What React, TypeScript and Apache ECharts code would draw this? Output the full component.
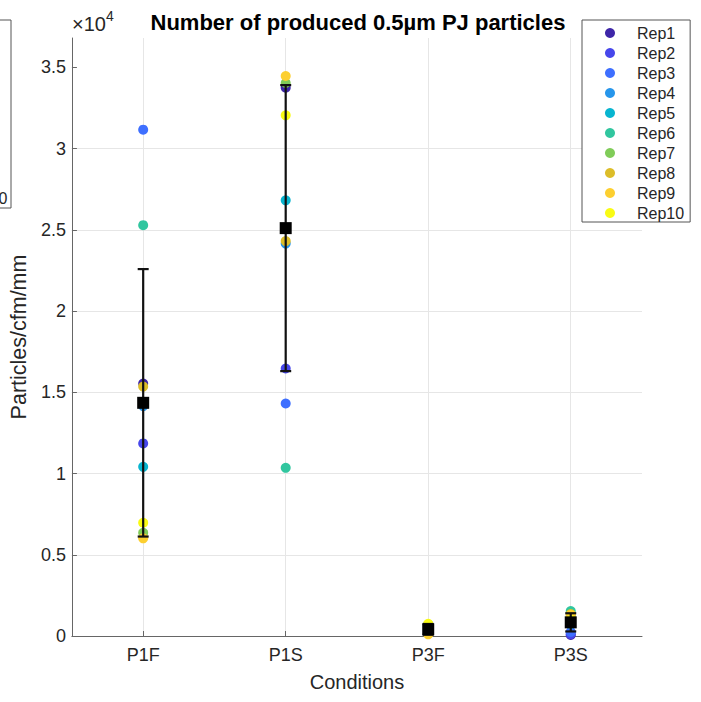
import React, { useEffect, useRef } from 'react';
import * as echarts from 'echarts';

const conditions = ['P1F', 'P1S', 'P3F', 'P3S'];
const repNames = ['Rep1', 'Rep2', 'Rep3', 'Rep4', 'Rep5', 'Rep6', 'Rep7', 'Rep8', 'Rep9', 'Rep10'];
const repColors = ['#3e26a8', '#4747eb', '#3e6fff', '#2796eb', '#08b5d0', '#31c69f', '#80cc59', '#dcbd29', '#fccf30', '#f9fb14'];

// values per condition (P1F, P1S, P3F, P3S)
const rep1 = [15540, 33740, 600, 60];
const rep2 = [11850, 16460, 200, 120];
const rep3 = [31160, 14310, 650, 250];
const rep4 = [14150, 24150, 300, 700];
const rep5 = [10410, 26810, 700, 900];
const rep6 = [25280, 10350, 250, 1540];
const rep7 = [6350, 34030, 550, 1200];
const rep8 = [15350, 24300, 150, 1350];
const rep9 = [6010, 34460, 100, 1300];
const rep10 = [6970, 32040, 750, 1000];
const repValues = [rep1, rep2, rep3, rep4, rep5, rep6, rep7, rep8, rep9, rep10];

const meanValues = [14350, 25100, 410, 840];
const sdValues = [8230, 8800, 330, 560];

const yTicks = [0, 5000, 10000, 15000, 20000, 25000, 30000, 35000];

const FONT = "'Liberation Sans', Arial, Helvetica, sans-serif";
const TXT = '#262626';

export default function App() {
  const ref = useRef<HTMLDivElement>(null);
  useEffect(() => {
    if (!ref.current) return;
    const chart = echarts.init(ref.current, null, { renderer: 'svg' });
    const scatterSeries = repNames.map((name, i) => ({
      type: 'scatter',
      name,
      data: repValues[i],
      symbol: 'circle',
      symbolSize: 10,
      itemStyle: { color: repColors[i], opacity: 1 },
      z: 2,
    }));
    const errData = conditions.map((_, i) => [i, meanValues[i] - sdValues[i], meanValues[i] + sdValues[i]]);
    const option: any = {
      animation: false,
      textStyle: { fontFamily: FONT },
      title: {
        text: 'Number of produced 0.5µm PJ particles',
        left: 353,
        top: 6,
        textAlign: 'center',
        textStyle: { fontFamily: FONT, fontSize: 22, fontWeight: 'bold', color: '#000' },
      },
      grid: { left: 68, right: 59, top: 38, bottom: 66, containLabel: false },
      legend: {
        data: repNames.map((n) => ({ name: n, icon: 'circle' })),
        orient: 'vertical',
        left: 582,
        top: 20,
        padding: [4, 6, 0, 23],
        itemWidth: 44,
        itemHeight: 10,
        itemGap: 2,
        backgroundColor: '#ffffff',
        borderColor: '#555555',
        borderWidth: 1,
        textStyle: { fontFamily: FONT, fontSize: 16, color: TXT, lineHeight: 18 },
        z: 10,
      },
      xAxis: {
        type: 'category',
        data: conditions,
        boundaryGap: true,
        name: 'Conditions',
        nameLocation: 'middle',
        nameGap: 36,
        nameTextStyle: { fontFamily: FONT, fontSize: 20, color: TXT },
        axisLine: { show: true, lineStyle: { color: '#666666', width: 1 } },
        axisTick: { show: true, inside: true, alignWithLabel: true, length: 5, lineStyle: { color: '#666666' } },
        axisLabel: { fontFamily: FONT, fontSize: 18, color: TXT, margin: 10 },
        splitLine: { show: true, alignWithLabel: true, lineStyle: { color: '#e6e6e6', width: 1 } },
      },
      yAxis: {
        type: 'value',
        min: 0,
        max: 36800,
        interval: 5000,
        name: 'Particles/cfm/mm',
        nameLocation: 'middle',
        nameGap: 31,
        nameTextStyle: { fontFamily: FONT, fontSize: 21.5, color: TXT },
        axisLine: { show: true, lineStyle: { color: '#666666', width: 1 } },
        axisTick: { show: true, inside: true, length: 5, customValues: yTicks, lineStyle: { color: '#666666' } },
        axisLabel: {
          fontFamily: FONT,
          fontSize: 18,
          color: TXT,
          margin: 6,
          showMaxLabel: false,
          formatter: (v: number) => String(v / 10000),
        },
        splitLine: { show: true, showMaxLine: false, lineStyle: { color: '#e6e6e6', width: 1 } },
      },
      graphic: [
        { type: 'text', left: 72, top: 14, style: { text: '×10', fontFamily: FONT, fontSize: 20, fill: TXT } },
        { type: 'text', left: 106, top: 9, style: { text: '4', fontFamily: FONT, fontSize: 14, fill: TXT } },
        { type: 'rect', shape: { x: -2, y: 20, width: 13, height: 188 }, style: { fill: '#ffffff', stroke: '#555555', lineWidth: 1 } },
        { type: 'text', x: 7.5, y: 198, style: { text: '0', fontFamily: FONT, fontSize: 16, fill: TXT, align: 'right', verticalAlign: 'middle' } },
      ],
      series: [
        ...scatterSeries,
        {
          type: 'custom',
          name: 'SD',
          data: errData,
          encode: { x: 0, y: [1, 2] },
          z: 3,
          renderItem: (params: any, api: any) => {
            const xi = api.value(0);
            const lo = api.coord([xi, api.value(1)]);
            const hi = api.coord([xi, api.value(2)]);
            const hw = 5.5;
            const st = { stroke: '#111111', lineWidth: 2.2 };
            return {
              type: 'group',
              children: [
                { type: 'line', shape: { x1: lo[0], y1: lo[1], x2: hi[0], y2: hi[1] }, style: st },
                { type: 'line', shape: { x1: hi[0] - hw, y1: hi[1], x2: hi[0] + hw, y2: hi[1] }, style: st },
                { type: 'line', shape: { x1: lo[0] - hw, y1: lo[1], x2: lo[0] + hw, y2: lo[1] }, style: st },
              ],
            };
          },
        },
        {
          type: 'scatter',
          name: 'Mean',
          data: meanValues,
          symbol: 'rect',
          symbolSize: 12,
          itemStyle: { color: '#000000', opacity: 1 },
          z: 4,
        },
      ],
    };
    chart.setOption(option);
    return () => chart.dispose();
  }, []);
  return <div ref={ref} style={{ position: 'absolute', left: 0, top: 0, width: 701, height: 702 }} />;
}
